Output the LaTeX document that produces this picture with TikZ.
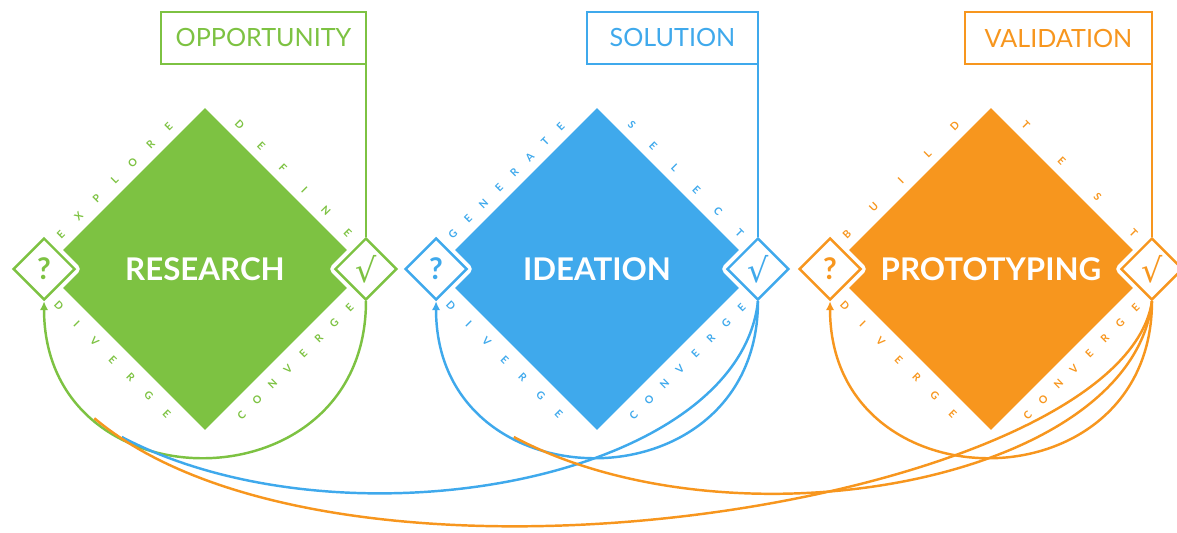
\documentclass[tikz,border=0pt]{standalone}
\usepackage{fontspec}
\setmainfont{Lato}
\newfontfamily\symfont{DejaVu Sans}
\usepackage{tikz}
\usetikzlibrary{positioning,arrows.meta,calc,shapes.geometric}
\definecolor{resGreen}{HTML}{7DC242}
\definecolor{ideBlue}{HTML}{3FA9EC}
\definecolor{proOrange}{HTML}{F7961E}
\tikzset{
  phase/.style={diamond, aspect=1, fill, inner sep=0pt, outer sep=0pt, minimum width=6.44cm, minimum height=6.44cm, text=white, font=\fontsize{17.8}{20}\selectfont\bfseries},
  gate/.style={diamond, aspect=1, draw, fill=white, line width=1.4pt, inner sep=0pt, minimum width=1.24cm, minimum height=1.24cm, preaction={draw=white, line width=6pt, line join=round}, font=\fontsize{17}{20}\selectfont\bfseries},
  gateOK/.style={gate, font=\fontsize{19}{22}\selectfont\symfont},
  labelbox/.style={draw, fill=white, line width=1.1pt, outer sep=0pt, inner sep=0pt, minimum height=1.04cm, font=\fontsize{14.3}{17}\selectfont},
  boxline/.style={line width=1.1pt},
  edgeletter/.style={inner sep=0pt, font=\fontsize{6}{7}\selectfont\bfseries},
  flow/.style={line width=1.4pt},
  back/.style={flow, -{Latex[length=1.8mm,width=1.7mm]}}
}
% letters spread along one side of a phase diamond
\newcommand{\edgeword}[6]{%
  \foreach \ch [count=\k] in {#6} {\xdef\edgecount{\k}}
  \foreach \ch [count=\k] in {#6} {
    \pgfmathsetmacro\edgepos{0.16+0.67*(\k-1)/(\edgecount-1)}
    \node[edgeletter, rotate=#5] (#1-#2#3-\k) at ($(#1.#2)!\edgepos!(#1.#3)+(#4)$) {\ch};
  }
}

\begin{document}
\begin{tikzpicture}[x=0.02cm, y=0.02cm]
  \useasboundingbox (0,0) rectangle (1177,-532);

  \begin{scope}[color=resGreen]
    \node[phase] (research) at (205,-269) {RESEARCH};
    \edgeword{research}{west}{north}{-9,9}{45}{E,X,P,L,O,R,E}
    \edgeword{research}{north}{east}{9,9}{-45}{D,E,F,I,N,E}
    \edgeword{research}{west}{south}{-11,-11}{-45}{D,I,V,E,R,G,E}
    \edgeword{research}{south}{east}{11,-11}{45}{C,O,N,V,E,R,G,E}
    \node[gate] (resAsk) at (research.west) {?};
    \node[gateOK] (resCheck) at (research.east) {√};
    \node[labelbox, minimum width=4.1cm, anchor=north east] (opportunity) at (resCheck.center |- 0,-12) {OPPORTUNITY};
    \draw[boxline] (opportunity.south east) -- (resCheck.north);
  \end{scope}

  \begin{scope}[color=ideBlue]
    \node[phase] (ideation) at (597,-269) {IDEATION};
    \edgeword{ideation}{west}{north}{-9,9}{45}{G,E,N,E,R,A,T,E}
    \edgeword{ideation}{north}{east}{9,9}{-45}{S,E,L,E,C,T}
    \edgeword{ideation}{west}{south}{-11,-11}{-45}{D,I,V,E,R,G,E}
    \edgeword{ideation}{south}{east}{11,-11}{45}{C,O,N,V,E,R,G,E}
    \node[gate] (ideAsk) at (ideation.west) {?};
    \node[gateOK] (ideCheck) at (ideation.east) {√};
    \node[labelbox, minimum width=3.42cm, anchor=north east] (solution) at (ideCheck.center |- 0,-12) {SOLUTION};
    \draw[boxline] (solution.south east) -- (ideCheck.north);
  \end{scope}

  \begin{scope}[color=proOrange]
    \node[phase] (prototyping) at (991,-269) {PROTOTYPING};
    \edgeword{prototyping}{west}{north}{-9,9}{45}{B,U,I,L,D}
    \edgeword{prototyping}{north}{east}{9,9}{-45}{T,E,S,T}
    \edgeword{prototyping}{west}{south}{-11,-11}{-45}{D,I,V,E,R,G,E}
    \edgeword{prototyping}{south}{east}{11,-11}{45}{C,O,N,V,E,R,G,E}
    \node[gate] (proAsk) at (prototyping.west) {?};
    \node[gateOK] (proCheck) at (prototyping.east) {√};
    \node[labelbox, minimum width=3.74cm, anchor=north east] (validation) at (proCheck.center |- 0,-12) {VALIDATION};
    \draw[boxline] (validation.south east) -- (proCheck.north);
  \end{scope}

  % loops back to the question of each phase
  \draw[back, resGreen] (resCheck.south) .. controls +(0,-208) and +(0,-208) .. (resAsk.south)
    coordinate[pos=0.68] (resJoinB) coordinate[pos=0.75] (resJoinO);
  \draw[back, ideBlue] (ideCheck.south) .. controls +(0,-208) and +(0,-208) .. (ideAsk.south)
    coordinate[pos=0.68] (ideJoinO);
  \draw[back, proOrange] (proCheck.south) .. controls +(0,-208) and +(0,-208) .. (proAsk.south);

  % longer ways back
  \draw[flow, ideBlue] (ideCheck.south) .. controls +(-20,-180) and +(221,-116) .. (resJoinB);
  \draw[flow, proOrange] (proCheck.south) .. controls +(-20,-180) and +(221,-117) .. (ideJoinO);
  \draw[flow, proOrange] (proCheck.south) .. controls +(-30,-200) and +(250,-210) .. (resJoinO);
\end{tikzpicture}
\end{document}
